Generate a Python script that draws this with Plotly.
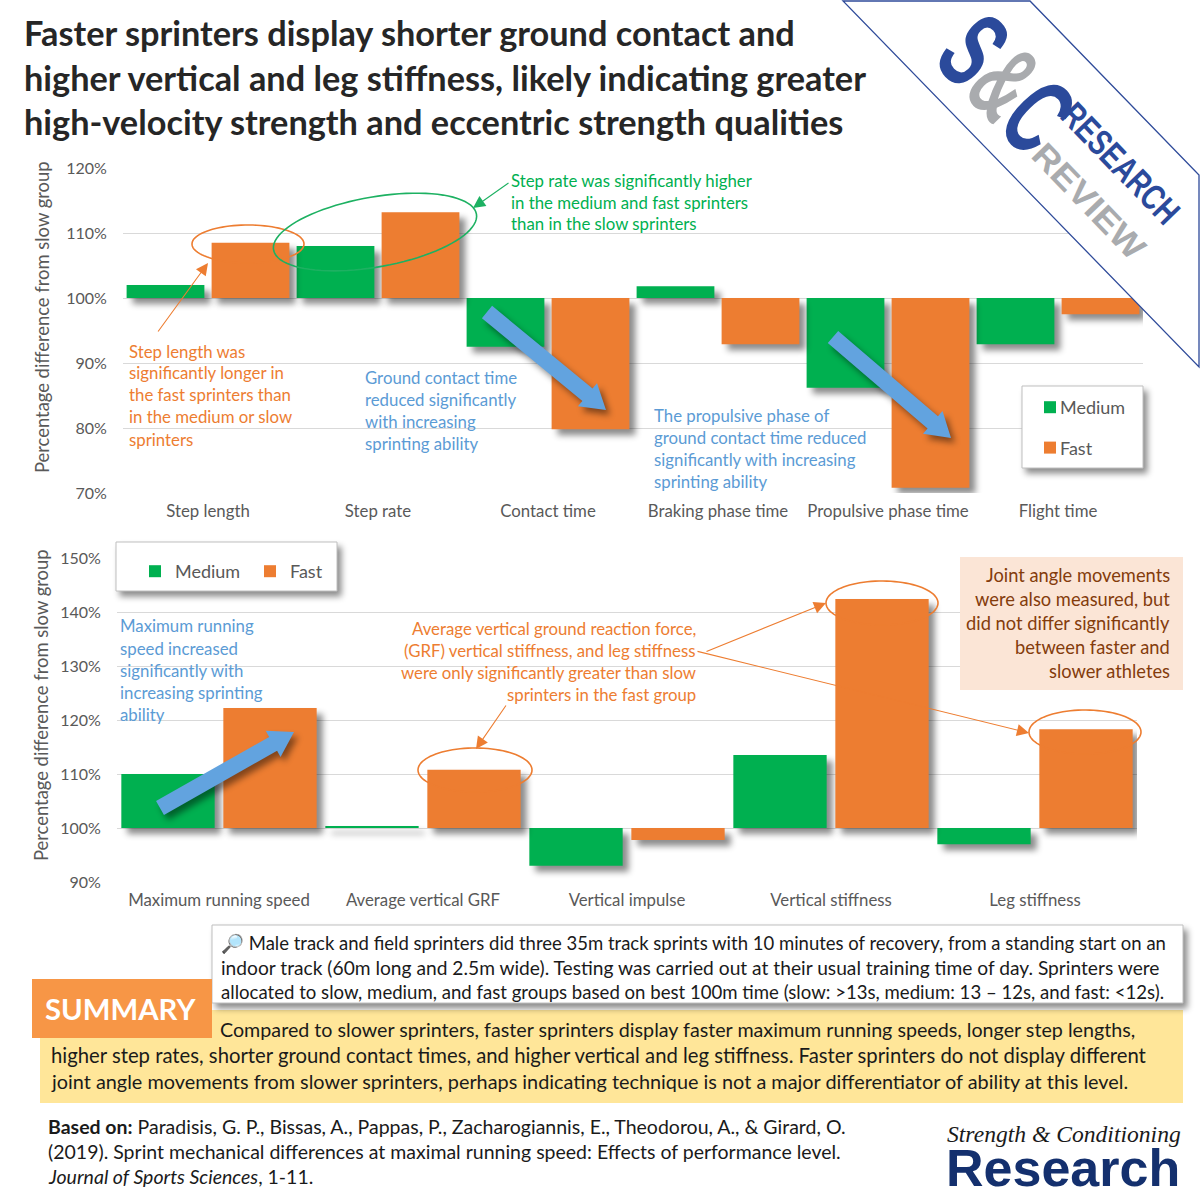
import json
import numpy as np
import plotly.graph_objects as go

# ---------- data ----------
top_categories = ["Step length", "Step rate", "Contact time", "Braking phase time", "Propulsive phase time", "Flight time"]
top_medium = [102.0, 108.0, 92.5, 101.8, 86.2, 92.9]
top_fast = [108.5, 113.2, 79.8, 92.9, 70.8, 97.5]
bottom_categories = ["Maximum running speed", "Average vertical GRF", "Vertical impulse", "Vertical stiffness", "Leg stiffness"]
bottom_medium = [110.0, 100.3, 93.0, 113.5, 97.0]
bottom_fast = [122.2, 110.8, 97.8, 142.4, 118.3]
BASELINE = 100
y_title = "Percentage difference from slow group"

title_lines = ["Faster sprinters display shorter ground contact and",
               "higher vertical and leg stiffness, likely indicating greater",
               "high-velocity strength and eccentric strength qualities"]
green_note = ["Step rate was significantly higher", "in the medium and fast sprinters", "than in the slow sprinters"]
orange_note = ["Step length was", "significantly longer in", "the fast sprinters than", "in the medium or slow", "sprinters"]
blue_note1 = ["Ground contact time", "reduced significantly", "with increasing", "sprinting ability"]
blue_note2 = ["The propulsive phase of", "ground contact time reduced", "significantly with increasing", "sprinting ability"]
blue_note3 = ["Maximum running", "speed increased", "significantly with", "increasing sprinting", "ability"]
orange_note2 = ["Average vertical ground reaction force,", "(GRF) vertical stiffness, and leg stiffness",
                "were only significantly greater than slow", "sprinters in the fast group"]
peach_note = ["Joint angle movements", "were also measured, but", "did not differ significantly", "between faster and", "slower athletes"]
info_lines = ["🔎 Male track and field sprinters did three 35m track sprints with 10 minutes of recovery, from a standing start on an",
              "indoor track (60m long and 2.5m wide). Testing was carried out at their usual training time of day. Sprinters were",
              "allocated to slow, medium, and fast groups based on best 100m time (slow: >13s, medium: 13 – 12s, and fast: <12s)."]
summary_lines = ["Compared to slower sprinters, faster sprinters display faster maximum running speeds, longer step lengths,",
                 "higher step rates, shorter ground contact times, and higher vertical and leg stiffness. Faster sprinters do not display different",
                 "joint angle movements from slower sprinters, perhaps indicating technique is not a major differentiator of ability at this level."]
ref_lines = ["<b>Based on:</b> Paradisis, G. P., Bissas, A., Pappas, P., Zacharogiannis, E., Theodorou, A., & Girard, O.",
             "(2019). Sprint mechanical differences at maximal running speed: Effects of performance level.",
             "<i>Journal of Sports Sciences</i>, 1-11."]

# ---------- style ----------
GREEN, ORANGE, BLUE = "#00B050", "#ED7D31", "#5B9BD5"
ARROW_BLUE = "#62A3DF"
GREY = "#595959"
NAVY = "#2B4A9B"
LIGHT = "#A9ABAE"
FONT = "Lato"
W = H = 1200

def px(x): return x / W
def py(y): return 1 - y / H

annotations, shapes = [], []
shadow_shapes = []

def text_block(x, y0, dy, lines, size, color, anchor="left", family=FONT):
    sizes = size if isinstance(size, list) else [size] * len(lines)
    nudge = {"left": -1, "right": 1, "center": 0}[anchor]
    for i, line in enumerate(lines):
        annotations.append(dict(x=px(x + nudge), y=py(y0 - 1 + i * dy), xref="paper", yref="paper", text=line,
                                showarrow=False, xanchor=anchor, yanchor="middle", borderpad=0,
                                font=dict(size=sizes[i], color=color, family=family)))

def line_arrow(x0, y0, x1, y1, color, head=2, width=1.1, size=2.2):
    annotations.append(dict(x=px(x1), y=py(y1), xref="paper", yref="paper", text="", showarrow=True,
                            ax=x0 - x1, ay=y0 - y1, axref="pixel", ayref="pixel", arrowhead=head,
                            arrowwidth=width, arrowsize=size, arrowcolor=color, standoff=0))

def rect(x0, y0, x1, y1, fill, line=None, shadow=False, width=1):
    if shadow:
        shadow_shapes.append(len(shapes))
    shapes.append(dict(type="rect", xref="paper", yref="paper", x0=px(x0), x1=px(x1), y0=py(y0), y1=py(y1),
                       fillcolor=fill, line=dict(color=line, width=width) if line else dict(width=0), layer="above"))

def polygon(points, fill, line=None, width=1, shadow=False):
    if shadow:
        shadow_shapes.append(len(shapes))
    path = "M " + " L ".join(f"{px(a):.5f} {py(b):.5f}" for a, b in points) + " Z"
    shapes.append(dict(type="path", xref="paper", yref="paper", path=path, fillcolor=fill,
                       line=dict(color=line, width=width) if line else dict(width=0), layer="above"))

def ellipse(cx, cy, rx, ry, angle, color, width=1.6):
    t = np.linspace(0, 2 * np.pi, 90)
    a = np.radians(angle)
    xs = cx + rx * np.cos(t) * np.cos(a) - ry * np.sin(t) * np.sin(a)
    ys = cy + rx * np.cos(t) * np.sin(a) + ry * np.sin(t) * np.cos(a)
    path = "M " + " L ".join(f"{px(a_):.5f} {py(b_):.5f}" for a_, b_ in zip(xs, ys)) + " Z"
    shapes.append(dict(type="path", xref="paper", yref="paper", path=path, fillcolor="rgba(0,0,0,0)",
                       line=dict(color=color, width=width), layer="above"))

def block_arrow(x0, y0, x1, y1, shaft=16, head_w=30, head_l=24):
    d = np.array([x1 - x0, y1 - y0], float)
    d /= np.hypot(*d)
    n = np.array([-d[1], d[0]])
    p0, p1 = np.array([x0, y0]), np.array([x1, y1])
    b = p1 - d * head_l
    pts = [p0 + n * shaft / 2, b + n * shaft / 2, b + n * head_w / 2, p1,
           b - n * head_w / 2, b - n * shaft / 2, p0 - n * shaft / 2]
    polygon([tuple(q) for q in pts], ARROW_BLUE, shadow=True)

def diffs(vals): return [v - BASELINE for v in vals]

fig = go.Figure()
for name, vals, color in [("Medium", top_medium, GREEN), ("Fast", top_fast, ORANGE)]:
    fig.add_bar(x=top_categories, y=diffs(vals), base=BASELINE, name=name, marker=dict(color=color, line=dict(width=0)),
                xaxis="x", yaxis="y", legend="legend", legendgroup="t" + name)
for name, vals, color in [("Medium", bottom_medium, GREEN), ("Fast", bottom_fast, ORANGE)]:
    fig.add_bar(x=bottom_categories, y=diffs(vals), base=BASELINE, name=name, marker=dict(color=color, line=dict(width=0)),
                xaxis="x2", yaxis="y2", legend="legend2", legendgroup="b" + name)

# boxes under the legends
rect(1022, 386, 1143, 468, "white", "#BFBFBF", shadow=True)
rect(116, 542, 337, 591, "white", "#BFBFBF", shadow=True)

# ellipses and arrows of the top chart
ellipse(248, 244, 56, 19, 0, ORANGE)
ellipse(375, 232, 103, 35, -10, "#1DB162")
line_arrow(157, 333, 208, 263, ORANGE)
line_arrow(510, 182, 473, 208, "#1DB162")
block_arrow(487, 312, 606, 410)
block_arrow(833, 337, 951, 438)

# ellipses and arrows of the bottom chart
ellipse(475, 770, 57, 22, 0, ORANGE)
ellipse(882, 603, 56, 22, 0, ORANGE)
ellipse(1085, 732, 56, 22, 0, ORANGE)
line_arrow(705, 652, 826, 603, ORANGE)
line_arrow(696, 651, 1029, 733, ORANGE)
line_arrow(507, 704, 476, 749, ORANGE)
block_arrow(160, 808, 294, 732)

# peach note box
rect(960, 557, 1183, 690, "#FBE5D6")

# summary panels
rect(40, 1010, 1183, 1103, "#FFE699")
rect(212, 925, 1183, 1003, "white", "#BFBFBF", shadow=True)
rect(32, 979, 212, 1038, "#F79646")

# corner banner
polygon([(843, 1), (1030, 1), (1199, 175), (1199, 367)], "white", "#2F4B9A", 1.3)

# text
text_block(24, 34, 44, title_lines, 34.3, "#262626")
for a in annotations[-3:]:
    a["text"] = "<b>" + a["text"] + "</b>"
text_block(511, 181, 22, green_note, 16.8, GREEN)
text_block(129, 352, 22, orange_note, 16.8, ORANGE)
text_block(365, 378, 22, blue_note1, 16.8, BLUE)
text_block(654, 416, 22, blue_note2, 16.8, BLUE)
text_block(120, 627, 22, blue_note3, 16.8, BLUE)
text_block(696, 629, 22, orange_note2, 16.8, ORANGE, anchor="right")
text_block(1170, 576, 24, peach_note, 18.3, "#843C0C", anchor="right")
text_block(221, 944.5, 24, info_lines, [18.5, 19.2, 18.6], "#1A1A1A")
text_block(220, 1030, 26, summary_lines[:1], 19.7, "#1A1A1A")
text_block(51, 1056, 26, summary_lines[1:], [20.3, 19.85], "#1A1A1A")
text_block(48, 1127, 25, ref_lines, 19.5, "#1A1A1A")
text_block(120, 1009, 0, ["<b>SUMMARY</b>"], 29.3, "white", anchor="center")

# axis titles (centred where the reference has them, above the plot centres)
y_title_font = dict(size=18.4, color=GREY, family=FONT)
for tx, ty in [(42, 317), (41, 705)]:
    annotations.append(dict(x=px(tx), y=py(ty), xref="paper", yref="paper", text=y_title, showarrow=False,
                            textangle=-90, xanchor="center", yanchor="middle", font=y_title_font))

# banner lettering (squeezed to the condensed look by the post script)
S_AND_C = f'<b>S<span style="color:{LIGHT}">&</span>C</b>'
banner = dict(xref="paper", yref="paper", showarrow=False, textangle=46, xanchor="center", yanchor="middle")
annotations.append(dict(x=px(1007), y=py(83), text=S_AND_C,
                        font=dict(size=110, color=NAVY, family="Liberation Sans"), **banner))
annotations.append(dict(x=px(1121), y=py(163), text="RESEARCH",
                        font=dict(size=36, color=NAVY, family="Liberation Sans", weight=700), **banner))
annotations.append(dict(x=px(1089), y=py(201), text="REVIEW",
                        font=dict(size=34, color=LIGHT, family="Liberation Sans", weight=700), **banner))

# footer logo
text_block(1064, 1135, 0, ["<i>Strength & Conditioning</i>"], 23.6, "#1A1A1A", anchor="center", family="Liberation Serif")
text_block(1063, 1169, 0, ["<b>Research</b>"], 52, "#14306E", anchor="center", family="Liberation Sans")

x_font = dict(size=16.8, color=GREY, family=FONT)
y_font = dict(size=16, color=GREY, family=FONT)
def xaxis(domain, anchor):
    return dict(domain=[px(domain[0]), px(domain[1])], anchor=anchor, type="category", showgrid=False, zeroline=False,
                showline=False, ticks="outside", ticklen=3, tickcolor="rgba(0,0,0,0)", tickfont=x_font)
def yaxis(top, bottom, rng, anchor):
    return dict(domain=[py(bottom), py(top)], anchor=anchor, range=rng, dtick=10, ticksuffix="%", showgrid=True,
                gridcolor="#D9D9D9", gridwidth=1.3, zeroline=False, showline=False, ticks="outside", ticklen=12,
                tickcolor="rgba(0,0,0,0)", tickfont=y_font)

fig.update_layout(
    width=W, height=H, margin=dict(l=0, r=0, t=0, b=0, autoexpand=False), paper_bgcolor="white", plot_bgcolor="white",
    barmode="group", bargap=0, bargroupgap=0.085, font=dict(family=FONT),
    xaxis=xaxis((123, 1143), "y"), yaxis=yaxis(168, 493, [70, 120], "x"),
    xaxis2=xaxis((117, 1137), "y2"), yaxis2=yaxis(558, 882, [90, 150], "x2"),
    legend=dict(x=px(1030), y=py(389), xanchor="left", yanchor="top", bgcolor="rgba(0,0,0,0)", tracegroupgap=14,
                font=dict(size=18, color=GREY, family=FONT)),
    legend2=dict(x=px(135), y=py(553), xanchor="left", yanchor="top", bgcolor="rgba(0,0,0,0)", orientation="h",
                 entrywidth=70, entrywidthmode="pixels", font=dict(size=18, color=GREY, family=FONT)),
    annotations=annotations, shapes=shapes,
)

post = """
document.body.style.margin = '0';
document.querySelectorAll('.barlayer .trace.bars').forEach(function (t) {
  t.style.filter = 'drop-shadow(6px 6px 3px rgba(0,0,0,0.45))';
});
var ids = %s;
ids.forEach(function (i) {
  var p = document.querySelector('.layer-above .shapelayer path[data-index="' + i + '"]');
  if (p) p.style.filter = 'drop-shadow(4px 5px 3px rgba(0,0,0,0.45))';
});
function shiftLegends() {
  document.querySelectorAll('.legendtext').forEach(function (t) {
    t.style.transform = 'translateX(-' + (t.getBoundingClientRect().left > 600 ? 10 : 11) + 'px)';
  });
}
shiftLegends();
setTimeout(shiftLegends, 150);
document.querySelectorAll('.annotation-text').forEach(function (t) {
  var s = t.textContent, len = {'S&C': 138, 'RESEARCH': 152, 'REVIEW': 146}[s];
  if (len) {
    t.setAttribute('textLength', len);
    t.setAttribute('lengthAdjust', 'spacingAndGlyphs');
  }
});
""" % json.dumps(shadow_shapes)

fig.write_html("out.html", post_script=post, config={"displayModeBar": False})
